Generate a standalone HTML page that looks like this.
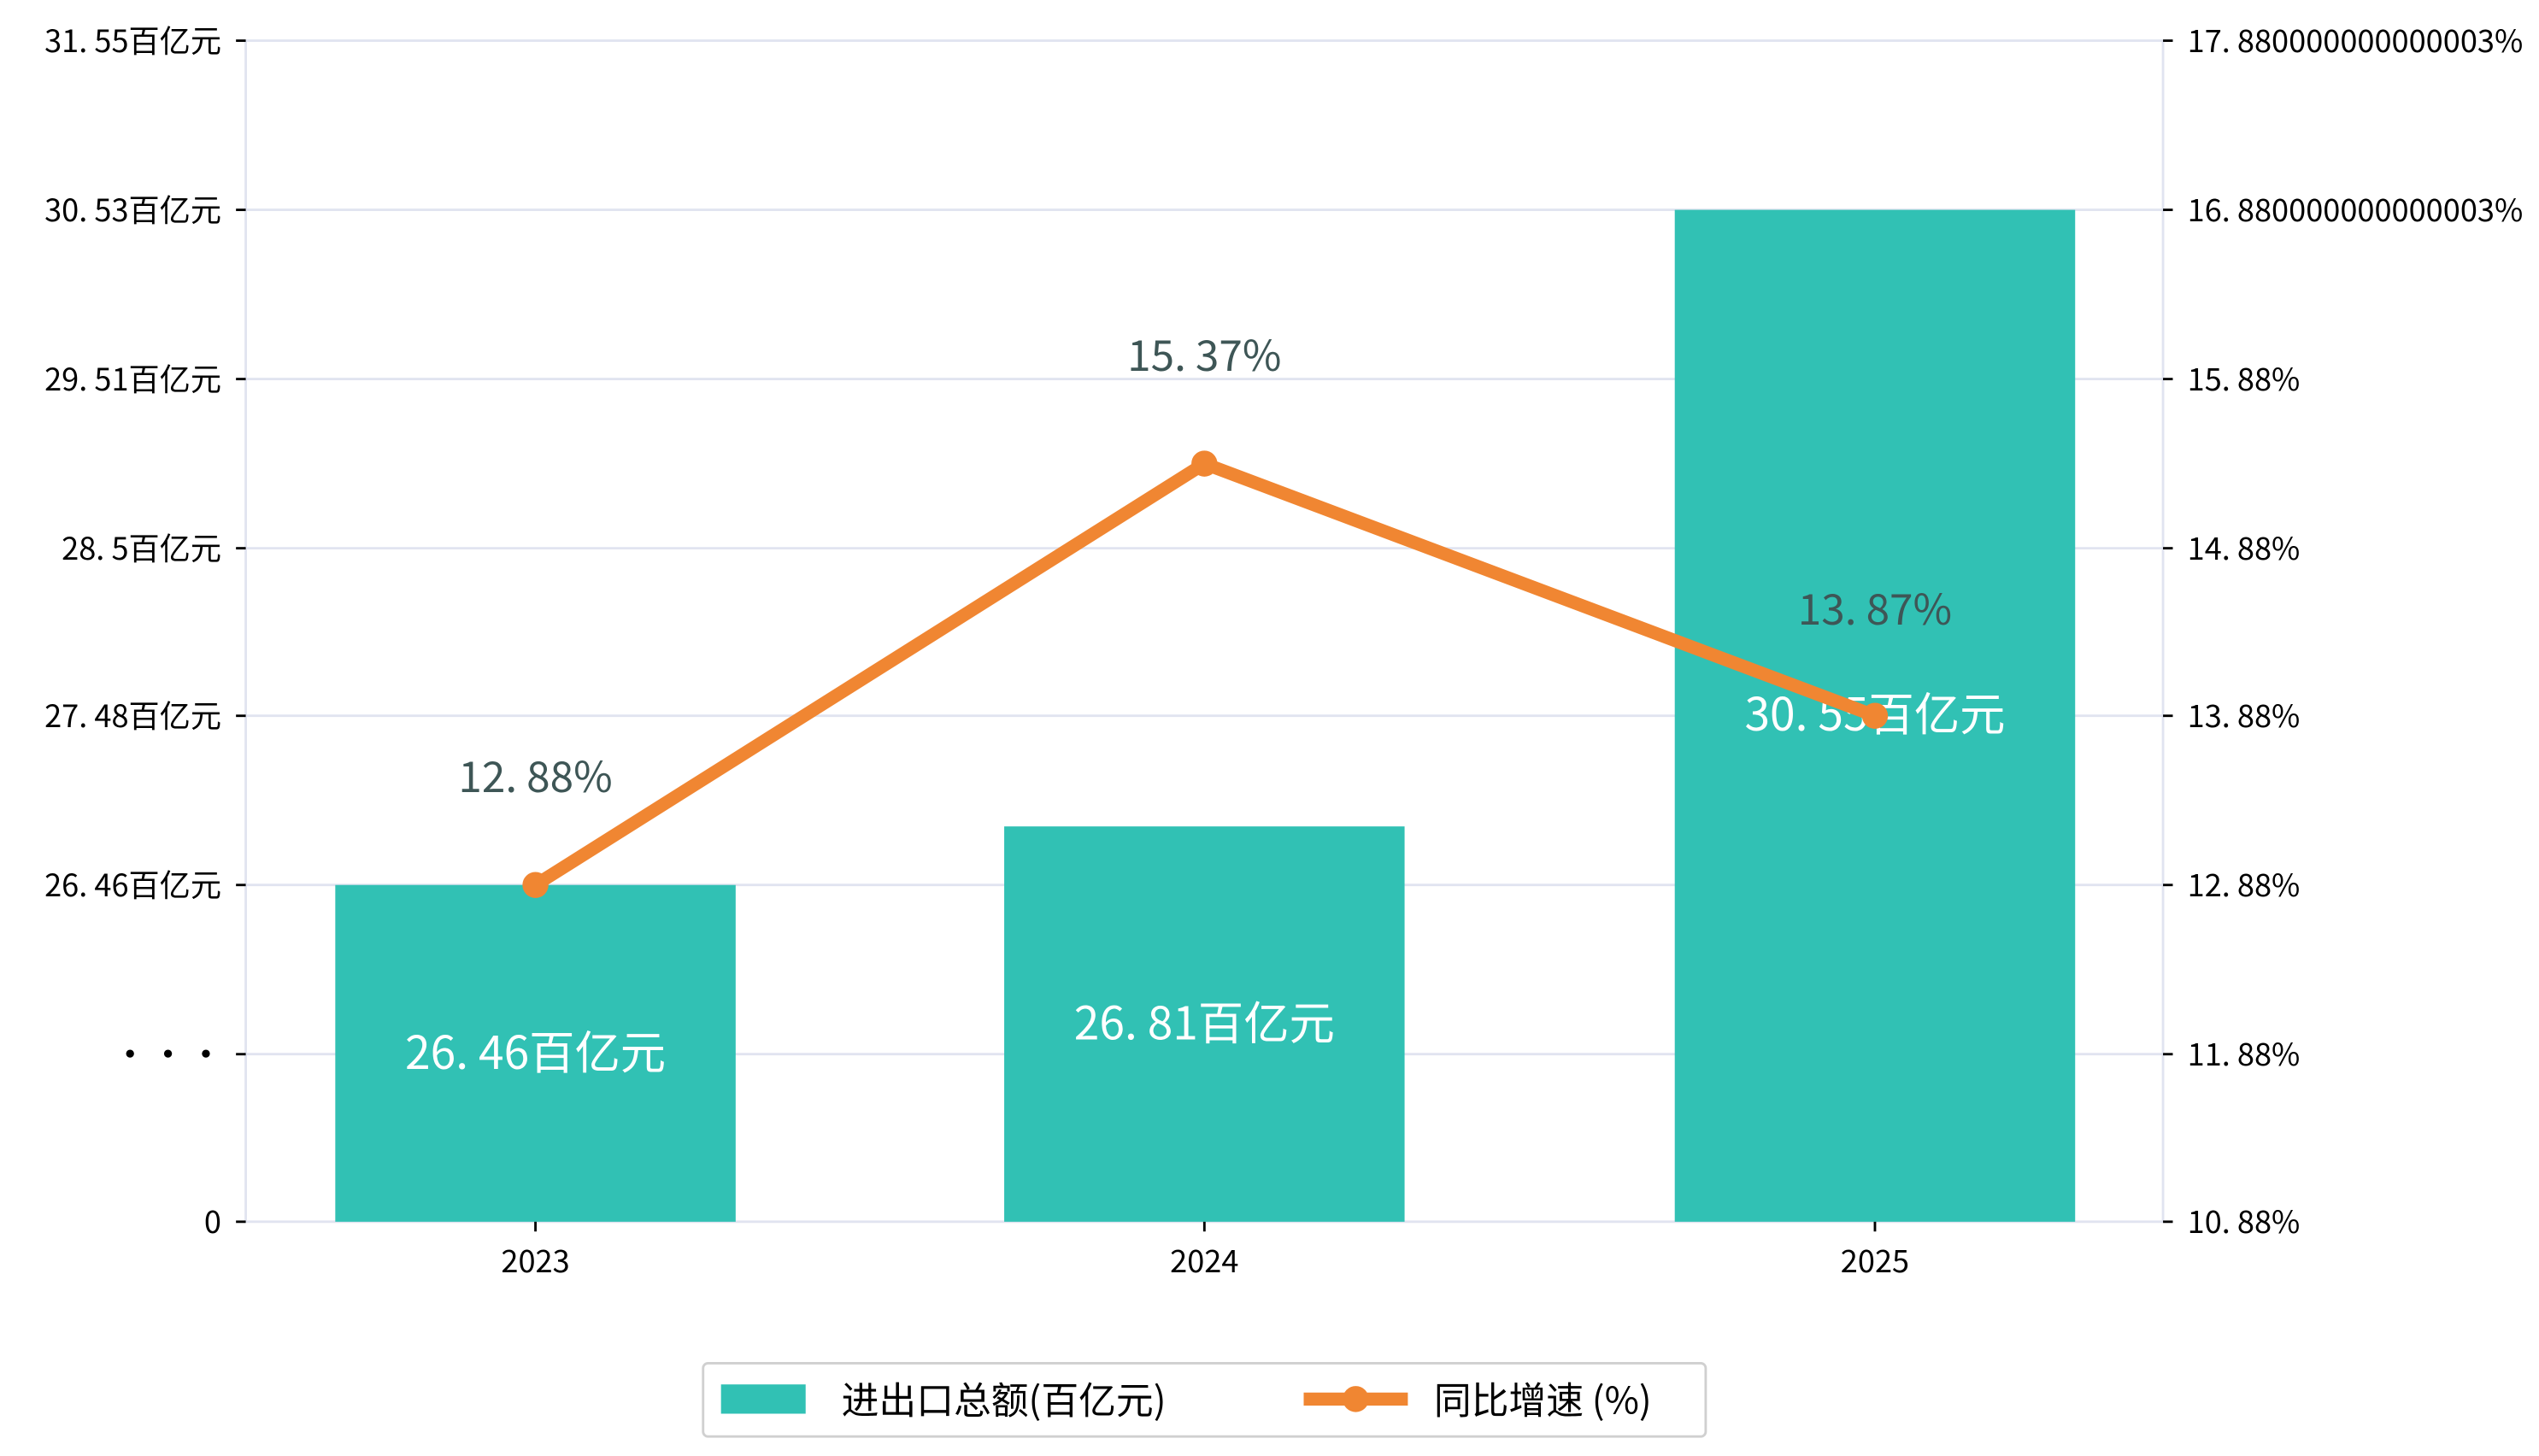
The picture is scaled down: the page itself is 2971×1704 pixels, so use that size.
<!DOCTYPE html>
<html><head><meta charset="utf-8"><style>
html,body{margin:0;padding:0;background:#fff;}
svg{display:block;}
text{font-family:"WenQuanYi Zen Hei","Noto Sans CJK SC",sans-serif;}
</style></head><body>
<svg width="2971" height="1704" viewBox="0 0 1560 895" preserveAspectRatio="none" xmlns="http://www.w3.org/2000/svg">
<rect width="1560" height="895" fill="#fff"/>
<g stroke="#e1e4f0" stroke-width="1.5">
<line x1="151" y1="25" x2="1329" y2="25"/>
<line x1="151" y1="129" x2="1329" y2="129"/>
<line x1="151" y1="233" x2="1329" y2="233"/>
<line x1="151" y1="337" x2="1329" y2="337"/>
<line x1="151" y1="440" x2="1329" y2="440"/>
<line x1="151" y1="544" x2="1329" y2="544"/>
<line x1="151" y1="648" x2="1329" y2="648"/>
<line x1="151" y1="751" x2="1329" y2="751"/>
<line x1="151" y1="25" x2="151" y2="751"/>
<line x1="1329" y1="25" x2="1329" y2="751"/>
</g>
<g fill="#31c1b4">
<rect x="206" y="544" width="246" height="207"/>
<rect x="617" y="508" width="246" height="243"/>
<rect x="1029" y="129" width="246" height="622"/>
</g>
<g stroke="#000" stroke-width="1.5">
<line x1="145" y1="25" x2="151" y2="25"/><line x1="145" y1="129" x2="151" y2="129"/>
<line x1="145" y1="233" x2="151" y2="233"/><line x1="145" y1="337" x2="151" y2="337"/>
<line x1="145" y1="440" x2="151" y2="440"/><line x1="145" y1="544" x2="151" y2="544"/>
<line x1="145" y1="648" x2="151" y2="648"/><line x1="145" y1="751" x2="151" y2="751"/>
<line x1="1329" y1="25" x2="1335" y2="25"/><line x1="1329" y1="129" x2="1335" y2="129"/>
<line x1="1329" y1="233" x2="1335" y2="233"/><line x1="1329" y1="337" x2="1335" y2="337"/>
<line x1="1329" y1="440" x2="1335" y2="440"/><line x1="1329" y1="544" x2="1335" y2="544"/>
<line x1="1329" y1="648" x2="1335" y2="648"/><line x1="1329" y1="751" x2="1335" y2="751"/>
<line x1="329" y1="751" x2="329" y2="757"/><line x1="740" y1="751" x2="740" y2="757"/><line x1="1152" y1="751" x2="1152" y2="757"/>
</g>
<g font-size="19" fill="#000" text-anchor="end">
<text x="136" y="32">31. 55百亿元</text>
<text x="136" y="136">30. 53百亿元</text>
<text x="136" y="240">29. 51百亿元</text>
<text x="136" y="344">28. 5百亿元</text>
<text x="136" y="447">27. 48百亿元</text>
<text x="136" y="551">26. 46百亿元</text>
<text x="136" y="655" font-weight="bold">· · ·</text>
<text x="136" y="758">0</text>
</g>
<g font-size="19" fill="#000">
<text x="1344" y="32">17. 880000000000003%</text>
<text x="1344" y="136">16. 880000000000003%</text>
<text x="1344" y="240">15. 88%</text>
<text x="1344" y="344">14. 88%</text>
<text x="1344" y="447">13. 88%</text>
<text x="1344" y="551">12. 88%</text>
<text x="1344" y="655">11. 88%</text>
<text x="1344" y="758">10. 88%</text>
</g>
<g font-size="19" fill="#000" text-anchor="middle">
<text x="329" y="782">2023</text><text x="740" y="782">2024</text><text x="1152" y="782">2025</text>
</g>
<g font-size="28" fill="#fff" text-anchor="middle">
<text x="329" y="657">26. 46百亿元</text>
<text x="740" y="639">26. 81百亿元</text>
<text x="1152" y="449">30. 55百亿元</text>
</g>
<polyline points="329,544 740,285 1152,440" fill="none" stroke="#f08632" stroke-width="8" stroke-linejoin="round"/>
<g fill="#f08632"><circle cx="329" cy="544" r="8"/><circle cx="740" cy="285" r="8"/><circle cx="1152" cy="440" r="8"/></g>
<g font-size="26" fill="#3e5656" text-anchor="middle">
<text x="329" y="487">12. 88%</text>
<text x="740" y="228">15. 37%</text>
<text x="1152" y="384">13. 87%</text>
</g>
<rect x="432" y="838" width="616" height="45" rx="3" fill="#fff" stroke="#d0d0d0" stroke-width="1.5"/>
<rect x="443" y="851" width="52" height="18" fill="#31c1b4"/>
<text x="517" y="869" font-size="23" fill="#000">进出口总额(百亿元)</text>
<line x1="801" y1="860" x2="865" y2="860" stroke="#f08632" stroke-width="8"/>
<circle cx="833" cy="860" r="8" fill="#f08632"/>
<text x="881" y="869" font-size="23" fill="#000">同比增速 (%)</text>
</svg>
</body></html>
